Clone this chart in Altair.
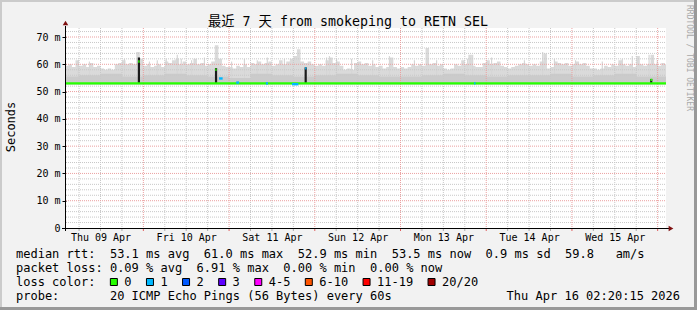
import altair as alt
import pandas as pd

MONO = "DejaVu Sans Mono, Noto Sans CJK SC"
NBSP = "\u00a0"

# ---------------- data ----------------
# time axis in hours after Thu 09 Apr 00:00
START_H = 2 + 20 / 60 + 15 / 3600          # Thu Apr 09 02:20:15
END_H = START_H + 7 * 24                    # Thu Apr 16 02:20:15
Y_MAX = 73.3

day_labels = ["Thu 09 Apr", "Fri 10 Apr", "Sat 11 Apr", "Sun 12 Apr",
              "Mon 13 Apr", "Tue 14 Apr", "Wed 15 Apr"]
day_label_hours = [12, 36, 60, 84, 108, 132, 156]
y_tick_values = [0, 10, 20, 30, 40, 50, 60, 70]

# smoke upper edge (ms), hourly, first value = Apr 09 02:00
top_apr09 = [59.5, 60, 59, 61.5, 59.5, 60, 59, 60.5, 59, 59.5, 58.5, 58, 58.5, 58,
             60, 60.5, 61.5, 60, 60.5, 60, 64.5, 62]
top_apr10 = [59.5, 60, 59, 59.5, 60, 59, 61, 60.5, 61.5, 62, 60, 61,
             60, 60.5, 62, 60, 60.5, 59.5, 60, 61, 67, 62, 59.5, 59]
top_apr11 = [59, 58.5, 59.5, 59, 60, 59, 60.5, 60, 61, 60, 60.5, 61,
             59.5, 60, 61.5, 60, 61, 62, 63, 65.5, 61, 60.5, 61, 60]
top_apr12 = [59.5, 60, 59.5, 61.5, 62.5, 60.5, 61, 59.5, 58, 58.5, 58, 60.5,
             61, 60, 60.5, 59.5, 60, 59, 59.5, 58.5, 59, 62.5, 59, 58.5]
top_apr13 = [59, 58.5, 59, 60, 59.5, 60, 59.5, 66, 60, 60.5, 59.5, 60,
             58.5, 58, 58.5, 60, 59.5, 61.5, 60, 63.5, 59.5, 59, 59, 60.5]
top_apr14 = [61.5, 60, 60.5, 61, 59.5, 59, 58.5, 59, 59.5, 60, 60.5, 60,
             59.5, 60, 59.5, 61, 64, 58.5, 59, 61, 60.5, 60, 60.5, 59.5]
top_apr15 = [60, 61, 60, 60.5, 59.5, 58.5, 58.5, 58, 58.5, 59.5, 59, 60,
             59.5, 61.5, 60, 59.5, 60, 59, 63, 60, 59.5, 60, 63.5, 60]
top_apr16 = [59.5, 60.5, 60]
smoke_floor = 52.6

# thin single-column smoke peaks (hour, ms)
peak_hour = [5.8, 8.9, 18.7, 25.7, 27.9, 30.4, 33.5, 34.6, 37.5, 41.1, 48.7, 52.3,
             55.9, 58.7, 63.5, 75.3, 76.1, 78.1, 82.3, 88.2, 92.9, 99.9, 106.1,
             114.8, 116.2, 121.5, 130.7, 135.8, 139.1, 145.0, 152.5, 158.1,
             160.9, 165.6, 167.9]
peak_top = [61.5, 61, 62, 61, 61.5, 62, 63.5, 62, 61.5, 62.5, 61, 62,
            61.5, 62.5, 62, 62.5, 63, 62, 62, 61.5, 63, 61.5, 61.5,
            62, 63.5, 62.5, 61.5, 64.5, 62, 61.5, 61, 62,
            63, 63.5, 61.5]

# denser inner smoke upper edge (ms), every 6 hours from Apr 09 00:00
inner_6h = [55.5, 56, 56.5, 55.5, 56, 56.5, 56, 55.5, 55, 56.5, 56, 55.5,
            56, 56.5, 56, 55.5, 55.5, 56, 56.5, 56, 55.5, 56, 56, 56.5,
            55.5, 56, 56.5, 55.5, 55.5]

# median rtt segments (hour start, hour end, ms, loss class)
seg_start = [START_H, 22.55, 44.15, 45.2, 50.0, 58.3, 65.6, 69.3, 116.6, 166.0]
seg_end = [END_H, 22.95, 44.5, 46.2, 50.8, 58.9, 67.4, 69.65, 117.0, 166.5]
seg_value = [53.0, 61.0, 58.0, 54.8, 53.3, 53.0, 52.7, 58.5, 53.0, 54.3]
seg_loss = ["0", "0", "0", "1", "1", "1", "1", "1", "1", "0"]

# dense dark smoke columns (hour, low ms, high ms)
spike_hour = [22.75, 44.35, 69.45, 166.2]
spike_low = [53.0, 53.0, 53.0, 53.0]
spike_high = [62.5, 58.6, 58.9, 54.6]

loss_labels = ["0", "1", "2", "3", "4-5", "6-10", "11-19", "20/20"]
loss_colors = ["#26ff00", "#00b8ff", "#0059ff", "#5e00ff", "#ff00ff",
               "#ff5500", "#ff0000", "#a00000"]

title_text = "最近 7 天 from smokeping to RETN SEL"
stat_lines = [
    "median rtt:  53.1 ms avg  61.0 ms max  52.9 ms min  53.5 ms now  0.9 ms sd  59.8   am/s",
    "packet loss: 0.09 % avg  6.91 % max  0.00 % min  0.00 % now",
    "loss color:",
    "probe:       20 ICMP Echo Pings (56 Bytes) every 60s",
]
stamp_text = "Thu Apr 16 02:20:15 2026"
side_text = "RRDTOOL / TOBI OETIKER"

# ---------------- tables ----------------
smoke_top = top_apr09 + top_apr10 + top_apr11 + top_apr12 + top_apr13 + top_apr14 + top_apr15 + top_apr16
smoke_h = [START_H] + list(range(3, 171)) + [END_H]
smoke_df = pd.DataFrame({"h": smoke_h, "v": smoke_top + [smoke_top[-1]], "lo": smoke_floor})
peak_df = pd.DataFrame({"h": peak_hour, "v": peak_top, "lo": smoke_floor})

inner_h = [START_H] + list(range(6, 169, 6)) + [END_H]
inner_df = pd.DataFrame({"h": inner_h, "v": inner_6h + [inner_6h[-1]], "lo": smoke_floor})

seg_df = pd.DataFrame({"h": seg_start, "h2": seg_end, "v": seg_value, "loss": seg_loss})
spike_df = pd.DataFrame({"h": spike_hour, "v": spike_low, "v2": spike_high})

vmajor = [24 * k for k in range(1, 8)]
vminor = [h for h in range(6, 171, 6) if h % 24 != 0]
hmajor = [10, 20, 30, 40, 50, 60, 70]
hminor = [v for v in range(2, 73, 2) if v % 10 != 0]
vmaj_df = pd.DataFrame({"h": vmajor})
vmin_df = pd.DataFrame({"h": vminor})
hmaj_df = pd.DataFrame({"v": hmajor})
hmin_df = pd.DataFrame({"v": hminor})
one = pd.DataFrame({"a": [0]})

# ---------------- encodings ----------------
W, H = 600, 200
xs = alt.Scale(domain=[START_H, END_H], nice=False, zero=False)
ys = alt.Scale(domain=[0, Y_MAX], nice=False, zero=True)
label_arr = "[" + ",".join("'" + d.replace(" ", NBSP) + "'" for d in day_labels) + "]"
xaxis = alt.Axis(values=day_label_hours, labelExpr=label_arr + "[floor(datum.value/24)]",
                 ticks=False, domain=False, grid=False, labelFont=MONO, labelFontSize=10,
                 labelColor="#000000", labelPadding=4, title=None, labelFlush=False,
                 labelOverlap=False)
yaxis = alt.Axis(values=y_tick_values,
                 labelExpr="datum.value == 0 ? '0" + NBSP + NBSP + "' : datum.value + '" + NBSP + "m'",
                 ticks=True, tickSize=4, tickColor="#000000", domain=False, grid=False,
                 labelFont=MONO, labelFontSize=10, labelColor="#000000", labelPadding=2,
                 title=None)
X = alt.X("h:Q", scale=xs, axis=xaxis)
Y = alt.Y("v:Q", scale=ys, axis=yaxis)

GRID_MINOR = "#c8c8c8"
GRID_MAJOR = "#eba0a0"

layers = []
layers.append(alt.Chart(smoke_df).mark_area(interpolate="step-after", color="#dadada")
              .encode(x=X, y=Y, y2="lo:Q"))
layers.append(alt.Chart(peak_df).mark_rule(color="#d6d6d6", strokeWidth=1.2)
              .encode(x=X, y=Y, y2="lo:Q"))
layers.append(alt.Chart(inner_df).mark_area(interpolate="step-after", color="#cbcbcb")
              .encode(x=X, y=Y, y2="lo:Q"))
layers.append(alt.Chart(hmin_df).mark_rule(color=GRID_MINOR, strokeDash=[1, 1], strokeWidth=1)
              .encode(y=Y, x=alt.value(0), x2=alt.value(W)))
layers.append(alt.Chart(vmin_df).mark_rule(color=GRID_MINOR, strokeDash=[1, 1], strokeWidth=1)
              .encode(x=X, y=alt.value(0), y2=alt.value(H)))
layers.append(alt.Chart(hmaj_df).mark_rule(color=GRID_MAJOR, strokeDash=[1, 1], strokeWidth=1)
              .encode(y=Y, x=alt.value(0), x2=alt.value(W)))
layers.append(alt.Chart(vmaj_df).mark_rule(color=GRID_MAJOR, strokeDash=[1, 1], strokeWidth=1)
              .encode(x=X, y=alt.value(0), y2=alt.value(H)))
# small ticks under the time axis
layers.append(alt.Chart(vmin_df).mark_rule(color="#aaaaaa", strokeWidth=1)
              .encode(x=X, y=alt.value(H), y2=alt.value(H + 3)))
layers.append(alt.Chart(vmaj_df).mark_rule(color="#e06060", strokeWidth=1)
              .encode(x=X, y=alt.value(H), y2=alt.value(H + 3)))
layers.append(alt.Chart(spike_df).mark_rule(color="#1c1c1c", strokeWidth=2.2)
              .encode(x=X, y=Y, y2="v2:Q"))
layers.append(alt.Chart(seg_df).mark_rule(strokeWidth=2.4, strokeCap="butt")
              .encode(x=X, x2="h2:Q", y=Y,
                      color=alt.Color("loss:N", scale=alt.Scale(domain=loss_labels, range=loss_colors),
                                      legend=None)))
# axis lines and arrows
layers.append(alt.Chart(one).mark_rule(color="#000000", strokeWidth=1)
              .encode(x=alt.value(-0.5), y=alt.value(-2), y2=alt.value(H + 3)))
layers.append(alt.Chart(one).mark_rule(color="#000000", strokeWidth=1)
              .encode(x=alt.value(-4), x2=alt.value(W + 3), y=alt.value(H + 0.5)))
layers.append(alt.Chart(one).mark_point(shape="triangle-up", filled=True, size=30, color="#7f1010", opacity=1)
              .encode(x=alt.value(-0.5), y=alt.value(-5)))
layers.append(alt.Chart(one).mark_point(shape="triangle-right", filled=True, size=30, color="#7f1010", opacity=1)
              .encode(x=alt.value(W + 5), y=alt.value(H + 0.5)))

OX, OY = 66, 28  # plot origin in the page


def txt(s, x, y, size=12, align="left", angle=0, color="#000000", font=MONO):
    return alt.Chart(one).mark_text(text=s.replace(" ", NBSP), font=font, fontSize=size,
                                    align=align, baseline="middle", angle=angle,
                                    color=color).encode(x=alt.value(x - OX), y=alt.value(y - OY))


layers.append(txt(title_text, 348, 21.5, size=13.3, align="center"))
layers.append(txt("Seconds", 10.5, 127, size=12, align="center", angle=270))
layers.append(txt(side_text, 688.5, 58, size=8, align="center", angle=90, color="#a8a8a8"))
for i, line in enumerate(stat_lines):
    layers.append(txt(line, 16, 254 + 14 * i, size=12))
layers.append(txt(stamp_text, 680, 296, size=12, align="right"))

# loss colour legend boxes
CH = 7.22
col = 13
for lab, colr in zip(loss_labels, loss_colors):
    bx = 16 + col * CH
    layers.append(alt.Chart(one).mark_rect(fill=colr, stroke="#000000", strokeWidth=1)
                  .encode(x=alt.value(bx - OX + 0.5), x2=alt.value(bx - OX + 7.5),
                          y=alt.value(278.5 - OY), y2=alt.value(285.5 - OY)))
    layers.append(txt(lab, 16 + (col + 2) * CH, 282, size=12))
    col += len(lab) + 4

# frame around the image
layers.append(alt.Chart(one).mark_rule(color="#cbcbcb", strokeWidth=2)
              .encode(x=alt.value(-OX), x2=alt.value(697 - OX), y=alt.value(1 - OY)))
layers.append(alt.Chart(one).mark_rule(color="#cbcbcb", strokeWidth=2)
              .encode(x=alt.value(1 - OX), y=alt.value(-OY), y2=alt.value(310 - OY)))
layers.append(alt.Chart(one).mark_rule(color="#999999", strokeWidth=3)
              .encode(x=alt.value(-OX), x2=alt.value(697 - OX), y=alt.value(308.5 - OY)))
layers.append(alt.Chart(one).mark_rule(color="#999999", strokeWidth=3)
              .encode(x=alt.value(695.5 - OX), y=alt.value(-OY), y2=alt.value(310 - OY)))

chart = alt.layer(*layers).properties(
    width=W, height=H,
    padding={"left": OX, "top": OY, "right": 697 - OX - W, "bottom": 310 - OY - H},
    autosize=alt.AutoSizeParams(type="none"),
    background="#f2f2f2",
).configure_view(stroke=None, fill="#ffffff")

chart.save("out.html", embed_options={"renderer": "svg", "actions": False})
